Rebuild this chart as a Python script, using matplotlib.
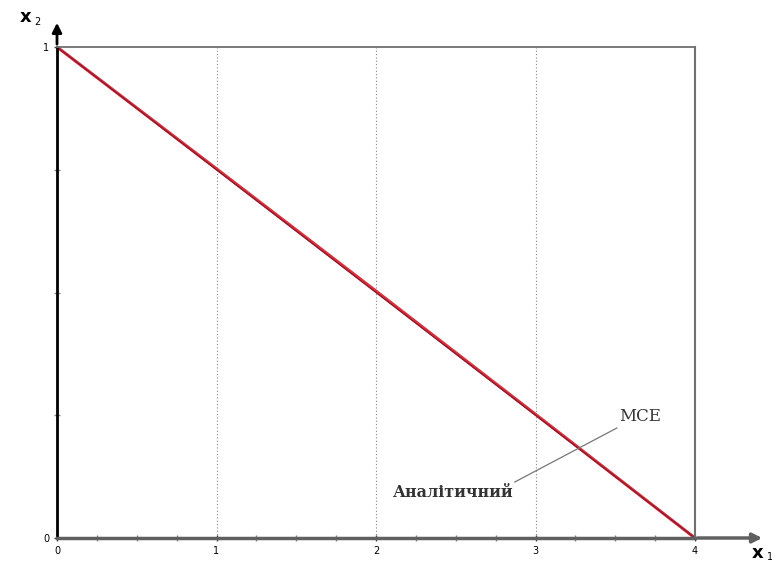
import matplotlib.pyplot as plt
import numpy as np

# data
x_analytic = [0, 1, 2, 3, 4]
y_analytic = [1.0, 0.75, 0.5, 0.25, 0.0]
x_mce = [0, 1, 2, 3, 4]
y_mce = [1.0, 0.752, 0.503, 0.252, 0.0]

x_ticks = [0, 1, 2, 3, 4]
y_ticks = [0, 1]

fig = plt.figure(figsize=(7.72, 5.69), dpi=100)
ax = fig.add_axes([57/772, 1-538/569, (695-57)/772, (538-47)/569])
ax.set_xlim(0, 4)
ax.set_ylim(0, 1)

# vertical dotted grid
for xv in x_ticks[1:-1]:
    ax.axvline(xv, color="#888888", linestyle=(0, (1, 2)), linewidth=0.8)

ax.plot(x_mce, y_mce, color="#e0303c", linewidth=2.2, solid_capstyle="butt")
ax.plot(x_analytic, y_analytic, color="#8a1c30", linewidth=1.0)

# spines
ax.spines["left"].set_linewidth(2.0)
ax.spines["left"].set_color("black")
ax.spines["bottom"].set_linewidth(2.5)
ax.spines["bottom"].set_color("#606060")
ax.spines["top"].set_linewidth(1.3)
ax.spines["top"].set_color("#707070")
ax.spines["right"].set_linewidth(1.5)
ax.spines["right"].set_color("#707070")

ax.set_xticks(x_ticks)
ax.set_xticklabels([str(v) for v in x_ticks])
ax.set_yticks(y_ticks)
ax.set_yticklabels([str(v) for v in y_ticks])
ax.set_xticks(np.arange(0, 4.01, 0.25), minor=True)
ax.set_yticks([0.25, 0.5, 0.75], minor=True)
ax.tick_params(which="both", direction="inout", length=5, width=1.0, colors="#444444",
               labelsize=7, pad=3, labelcolor="black")
ax.tick_params(which="minor", length=4, colors="#888888")

# axis arrows
ax.annotate("", xy=(765/772, 1-538/569), xytext=(695/772, 1-538/569),
            xycoords="figure fraction",
            arrowprops=dict(arrowstyle="-|>", color="#606060", lw=2.5, mutation_scale=14))
ax.annotate("", xy=(57/772, 1-20/569), xytext=(57/772, 1-47/569),
            xycoords="figure fraction",
            arrowprops=dict(arrowstyle="-|>", color="black", lw=2.0, mutation_scale=14))

fig.text(752/772, 1-553/569, "x", fontsize=13, fontweight="bold", ha="left", va="center")
fig.text(767/772, 1-557/569, "1", fontsize=7, ha="left", va="center")
fig.text(20/772, 1-17/569, "x", fontsize=13, fontweight="bold", ha="left", va="center")
fig.text(34/772, 1-22/569, "2", fontsize=7, ha="left", va="center")

# labels with leader line
ax.text(3.655, 0.248, "МСЕ", fontsize=12, family="DejaVu Serif", ha="center", va="center",
        color="#333333")
ax.text(2.483, 0.092, "Аналітичний", fontsize=11.5, family="DejaVu Serif", fontweight="bold",
        ha="center", va="center", color="#333333")
ax.plot([3.51, 2.87], [0.224, 0.114], color="#777777", linewidth=0.9)

fig.savefig("out.png", dpi=100)
